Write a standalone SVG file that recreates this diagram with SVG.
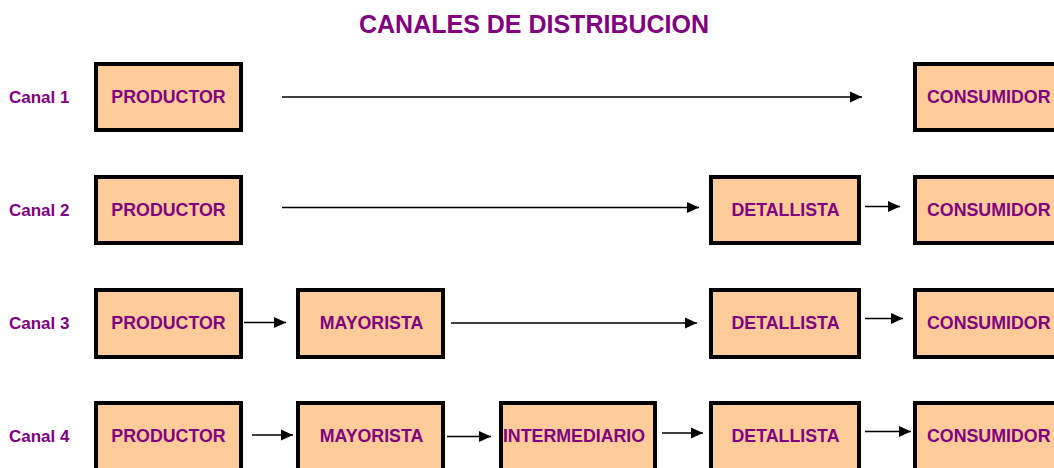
<svg xmlns="http://www.w3.org/2000/svg" width="1054" height="468" viewBox="0 0 1054 468">
<style>
.box{fill:#FFCC99;stroke:#000;stroke-width:4}
.t{font-family:"Liberation Sans",Arial,sans-serif;font-weight:bold;fill:#800080;font-size:17.8px}
.c{font-family:"Liberation Sans",Arial,sans-serif;font-weight:bold;fill:#800080;font-size:17px}
.title{font-family:"Liberation Sans",Arial,sans-serif;font-weight:bold;fill:#800080;font-size:25px}
.a{stroke:#000;stroke-width:1.7;fill:none;marker-end:url(#ah)}
</style>
<defs>
<marker id="ah" markerUnits="userSpaceOnUse" markerWidth="12" markerHeight="12" refX="10" refY="5" orient="auto" viewBox="0 0 10 10">
<path d="M0,0.5 L10,5 L0,9.5 z" fill="#000"/>
</marker>
</defs>
<rect width="1054" height="468" fill="#fff"/>
<text class="title" x="534" y="33" text-anchor="middle">CANALES DE DISTRIBUCION</text>
<g id="labels">
<text class="c" x="9" y="103">Canal 1</text>
<text class="c" x="9" y="216">Canal 2</text>
<text class="c" x="9" y="329">Canal 3</text>
<text class="c" x="9" y="442">Canal 4</text>
</g>
<g id="connectors">
<line class="a" x1="282" y1="97" x2="862" y2="97"/>
<line class="a" x1="282" y1="207.5" x2="699" y2="207.5"/>
<line class="a" x1="865" y1="206.5" x2="900" y2="206.5"/>
<line class="a" x1="244" y1="322.5" x2="286" y2="322.5"/>
<line class="a" x1="451" y1="323" x2="697" y2="323"/>
<line class="a" x1="865" y1="318.5" x2="903" y2="318.5"/>
<line class="a" x1="252" y1="435" x2="293" y2="435"/>
<line class="a" x1="447" y1="436.5" x2="491" y2="436.5"/>
<line class="a" x1="662" y1="433" x2="703" y2="433"/>
<line class="a" x1="865" y1="431.5" x2="911" y2="431.5"/>
</g>
<g id="r1-productor"><rect class="box" x="96" y="64" width="145" height="66"/><text class="t" x="168.5" y="103" text-anchor="middle">PRODUCTOR</text></g>
<g id="r1-consumidor"><rect class="box" x="915" y="64" width="150" height="66"/><text class="t" x="927" y="103">CONSUMIDOR</text></g>
<g id="r2-productor"><rect class="box" x="96" y="177" width="145" height="66"/><text class="t" x="168.5" y="216" text-anchor="middle">PRODUCTOR</text></g>
<g id="r2-detallista"><rect class="box" x="711" y="177" width="148" height="66"/><text class="t" x="785.5" y="216" text-anchor="middle">DETALLISTA</text></g>
<g id="r2-consumidor"><rect class="box" x="915" y="177" width="150" height="66"/><text class="t" x="927" y="216">CONSUMIDOR</text></g>
<g id="r3-productor"><rect class="box" x="96" y="290" width="145" height="67"/><text class="t" x="168.5" y="329" text-anchor="middle">PRODUCTOR</text></g>
<g id="r3-mayorista"><rect class="box" x="298" y="290" width="145" height="67"/><text class="t" x="371.5" y="329" text-anchor="middle">MAYORISTA</text></g>
<g id="r3-detallista"><rect class="box" x="711" y="290" width="148" height="67"/><text class="t" x="785.5" y="329" text-anchor="middle">DETALLISTA</text></g>
<g id="r3-consumidor"><rect class="box" x="915" y="290" width="150" height="67"/><text class="t" x="927" y="329">CONSUMIDOR</text></g>
<g id="r4-productor"><rect class="box" x="96" y="403" width="145" height="67"/><text class="t" x="168.5" y="442" text-anchor="middle">PRODUCTOR</text></g>
<g id="r4-mayorista"><rect class="box" x="298" y="403" width="145" height="67"/><text class="t" x="371.5" y="442" text-anchor="middle">MAYORISTA</text></g>
<g id="r4-intermediario"><rect class="box" x="501" y="403" width="154" height="67"/><text class="t" x="574" y="442" text-anchor="middle">INTERMEDIARIO</text></g>
<g id="r4-detallista"><rect class="box" x="711" y="403" width="148" height="67"/><text class="t" x="785.5" y="442" text-anchor="middle">DETALLISTA</text></g>
<g id="r4-consumidor"><rect class="box" x="915" y="403" width="150" height="67"/><text class="t" x="927" y="442">CONSUMIDOR</text></g>
</svg>
